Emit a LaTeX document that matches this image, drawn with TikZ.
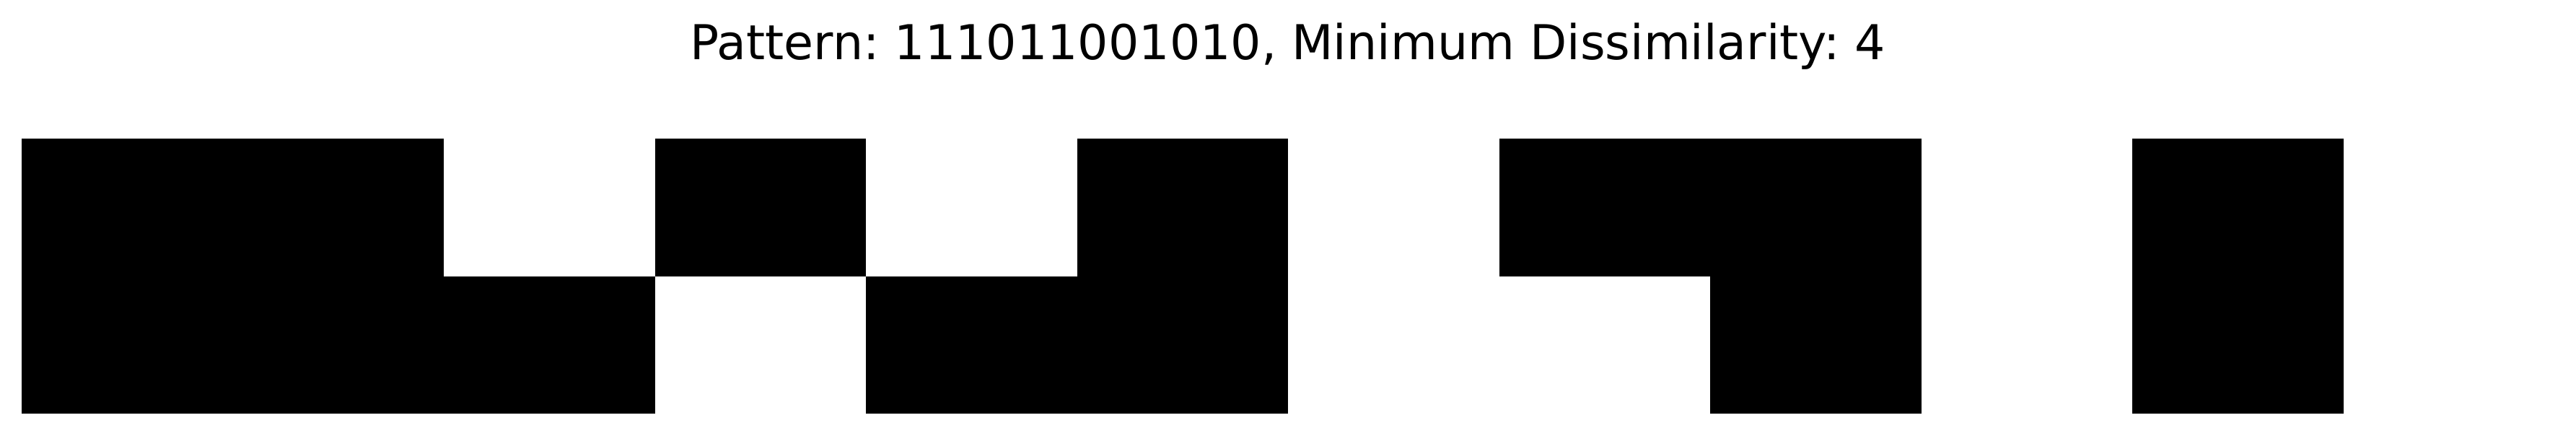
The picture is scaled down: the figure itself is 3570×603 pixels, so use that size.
\documentclass[tikz,border=0pt]{standalone}
\usepackage{fontspec}
\setmainfont{DejaVu Sans}
\frenchspacing
\begin{document}
\begin{tikzpicture}[x=0.25pt,y=-0.25pt,
  cellon/.style={fill=black,draw=none},
  titletext/.style={inner sep=0pt,anchor=base,font=\fontsize{16.65pt}{20pt}\selectfont}]
\useasboundingbox (0,0) rectangle (3570,603);
\fill[white] (0,0) rectangle (3570,603);
\node[titletext] (title) at (1785,82) {\frenchspacing Pattern: 111011001010, Minimum Dissimilarity: 4};
% top row: 110101011010
\foreach \c/\v in {0/1,1/1,2/0,3/1,4/0,5/1,6/0,7/1,8/1,9/0,10/1,11/0}{
  \ifnum\v=1
    \fill[cellon] ({30+\c*292.5},192) rectangle ({30+(\c+1)*292.5},382.5);
  \fi
}
% bottom row: 111011001010
\foreach \c/\v in {0/1,1/1,2/1,3/0,4/1,5/1,6/0,7/0,8/1,9/0,10/1,11/0}{
  \ifnum\v=1
    \fill[cellon] ({30+\c*292.5},382.5) rectangle ({30+(\c+1)*292.5},573);
  \fi
}
\end{tikzpicture}
\end{document}
